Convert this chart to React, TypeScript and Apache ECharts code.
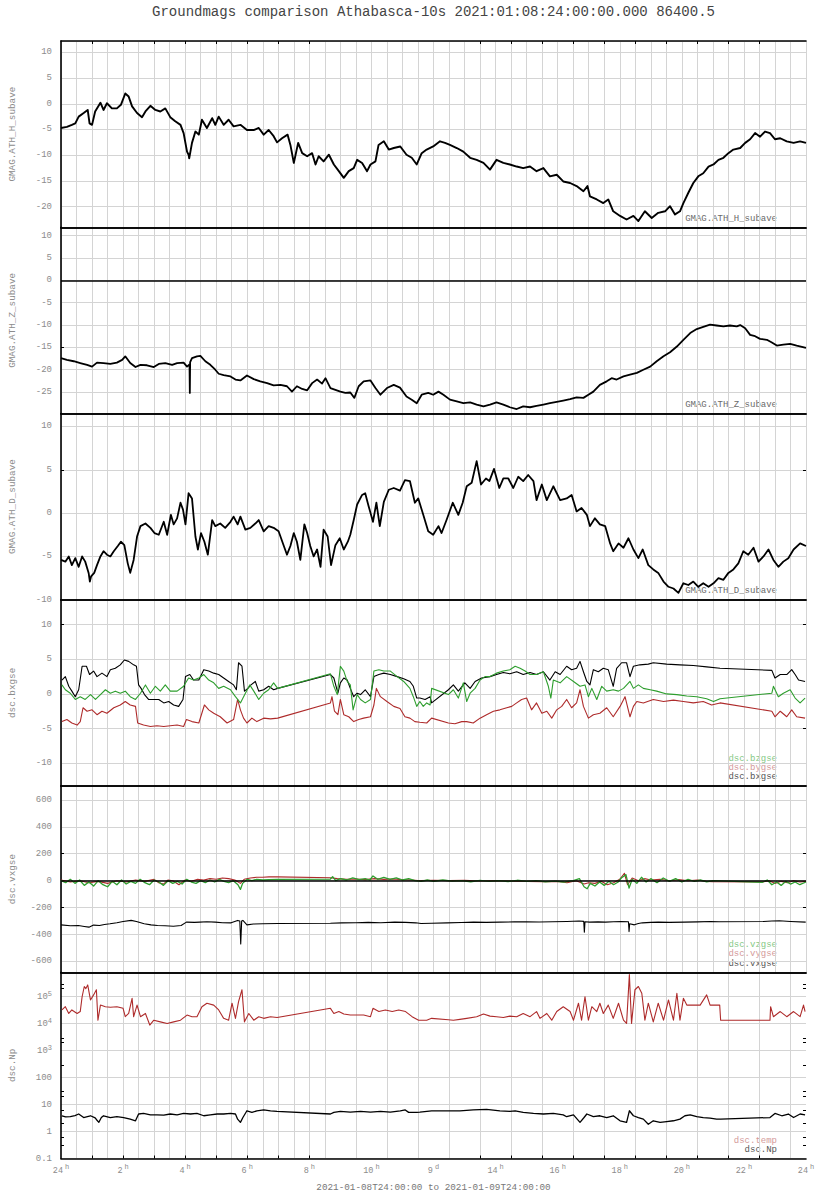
import React, { useEffect, useRef } from "react";
import * as echarts from "echarts";

// ---------------- DATA (hours since 2021-01-09 00:00) ----------------
const hT = [0,0.19,0.35,0.46,0.57,0.73,0.86,0.92,1.0,1.1,1.27,1.37,1.48,1.64,1.8,1.93,2.07,2.18,2.29,2.45,2.61,2.72,2.88,3.04,3.2,3.36,3.52,3.68,3.85,3.95,4.06,4.11,4.13,4.22,4.33,4.44,4.54,4.7,4.87,4.97,5.08,5.24,5.4,5.56,5.78,5.99,6.21,6.37,6.53,6.69,6.85,6.96,7.12,7.3,7.39,7.5,7.64,7.77,7.93,8.09,8.2,8.3,8.46,8.63,8.79,8.95,9.11,9.27,9.43,9.54,9.7,9.86,9.97,10.13,10.23,10.4,10.56,10.72,10.93,11.13,11.3,11.46,11.62,11.78,11.99,12.21,12.37,12.53,12.75,12.96,13.18,13.39,13.61,13.82,14.03,14.25,14.46,14.68,14.89,15.11,15.32,15.54,15.75,15.97,16.18,16.4,16.61,16.83,16.96,17.04,17.26,17.47,17.63,17.79,18.01,18.22,18.44,18.6,18.81,19.03,19.24,19.46,19.62,19.78,19.94,20.05,20.21,20.37,20.53,20.69,20.86,21.02,21.18,21.34,21.5,21.66,21.88,22.04,22.2,22.36,22.52,22.68,22.84,23.0,23.17,23.38,23.6,23.81,24.0];
const hV = [-4.7,-4.5,-4.1,-3.8,-2.5,-1.8,-1.2,-3.8,-4.1,-1.5,0.2,-1.2,0.1,-0.9,-0.9,-0.2,2.0,1.4,-0.5,-1.8,-2.6,-1.5,-0.4,-1.2,-1.5,-0.9,-2.6,-3.4,-4.1,-5.7,-9.3,-9.9,-10.6,-7.6,-5.4,-6.0,-3.1,-4.7,-2.8,-4.1,-2.5,-4.1,-3.1,-4.4,-4.1,-5.1,-5.1,-4.7,-6.0,-5.1,-6.3,-7.5,-6.7,-6.0,-8.0,-11.5,-7.6,-9.6,-10.2,-9.6,-11.8,-10.2,-11.2,-9.9,-11.8,-13.1,-14.4,-13.1,-12.5,-10.9,-11.5,-13.1,-11.8,-11.2,-8.0,-7.3,-8.9,-8.6,-8.3,-9.9,-10.5,-11.8,-9.6,-8.9,-8.3,-7.3,-7.6,-8.0,-8.6,-9.3,-10.5,-10.9,-11.5,-12.8,-10.9,-11.5,-11.8,-12.2,-12.5,-12.2,-13.1,-12.5,-14.1,-13.8,-15.1,-15.4,-16.0,-17.0,-16.0,-18.0,-18.6,-19.3,-18.6,-20.9,-21.8,-22.5,-21.8,-22.8,-20.9,-22.2,-21.2,-20.9,-19.9,-21.5,-20.9,-19.3,-17.3,-15.4,-14.1,-13.5,-12.2,-11.8,-10.9,-10.5,-9.6,-8.9,-8.6,-7.6,-6.9,-5.7,-6.4,-5.4,-5.7,-6.9,-6.7,-7.3,-7.6,-7.3,-7.6];

const zT = [0,0.19,0.41,0.62,0.84,1.0,1.16,1.37,1.59,1.8,1.97,2.07,2.23,2.4,2.56,2.77,2.99,3.15,3.36,3.58,3.74,3.95,4.06,4.14,4.15,4.16,4.22,4.38,4.49,4.65,4.81,4.97,5.08,5.24,5.46,5.62,5.78,5.99,6.21,6.42,6.64,6.85,7.07,7.28,7.44,7.6,7.77,7.93,8.09,8.25,8.41,8.52,8.68,8.84,9.0,9.16,9.32,9.45,9.59,9.75,9.97,10.13,10.29,10.5,10.72,10.92,11.13,11.3,11.46,11.62,11.83,11.99,12.16,12.32,12.53,12.75,12.96,13.18,13.39,13.61,13.82,14.03,14.25,14.46,14.68,14.89,15.11,15.32,15.54,15.75,15.97,16.18,16.4,16.61,16.83,16.99,17.15,17.36,17.58,17.74,17.9,18.12,18.33,18.55,18.76,18.98,19.19,19.41,19.62,19.84,20.05,20.27,20.48,20.69,20.91,21.12,21.34,21.55,21.77,21.88,22.04,22.2,22.36,22.52,22.74,22.9,23.06,23.27,23.49,23.7,24.0];
const zV = [-17.4,-17.8,-18.1,-18.5,-18.9,-19.3,-18.4,-18.5,-18.7,-18.4,-17.8,-17.0,-18.5,-19.4,-18.9,-19.0,-19.4,-18.7,-18.5,-18.9,-18.5,-18.4,-19.3,-18.8,-25.2,-18.3,-17.4,-17.0,-16.9,-18.1,-18.9,-20.0,-20.9,-21.2,-21.5,-22.2,-22.4,-21.3,-22.1,-22.6,-23.0,-23.5,-23.4,-23.7,-24.9,-23.7,-24.3,-24.6,-23.0,-22.2,-23.1,-21.9,-24.1,-24.5,-24.9,-25.2,-25.1,-26.3,-23.7,-22.6,-22.4,-24.1,-25.6,-24.1,-23.4,-24.0,-26.0,-26.7,-27.5,-25.6,-25.2,-25.6,-24.9,-25.6,-26.7,-27.1,-27.5,-27.3,-27.8,-28.2,-27.8,-27.3,-27.8,-28.4,-28.8,-28.2,-28.4,-28.1,-27.8,-27.5,-27.2,-26.9,-26.6,-26.2,-26.3,-25.6,-24.9,-23.4,-22.6,-21.9,-22.2,-21.5,-21.1,-20.7,-20.0,-19.3,-18.1,-17.0,-16.1,-14.8,-13.3,-11.8,-10.9,-10.4,-9.9,-10.1,-10.3,-10.1,-10.3,-10.0,-10.7,-12.2,-12.5,-13.1,-13.3,-13.9,-14.6,-14.4,-14.2,-14.6,-15.1];

const dT = [0,0.14,0.25,0.35,0.46,0.57,0.68,0.78,0.89,0.93,0.97,1.07,1.16,1.27,1.37,1.48,1.59,1.7,1.83,1.93,2.04,2.15,2.23,2.34,2.45,2.56,2.72,2.88,3.01,3.15,3.31,3.42,3.54,3.63,3.74,3.85,3.93,4.01,4.11,4.22,4.33,4.41,4.51,4.62,4.73,4.87,4.97,5.13,5.29,5.46,5.56,5.69,5.78,5.94,6.1,6.26,6.37,6.53,6.69,6.85,7.01,7.15,7.28,7.39,7.5,7.6,7.71,7.84,7.93,8.03,8.14,8.25,8.36,8.46,8.59,8.7,8.84,8.98,9.11,9.24,9.32,9.43,9.54,9.7,9.8,9.91,10.05,10.16,10.27,10.4,10.56,10.72,10.92,11.08,11.24,11.4,11.51,11.67,11.83,11.99,12.16,12.26,12.42,12.62,12.8,12.94,13.07,13.23,13.39,13.53,13.69,13.8,13.95,14.12,14.25,14.41,14.57,14.73,14.89,15.05,15.22,15.32,15.49,15.65,15.86,16.08,16.29,16.45,16.61,16.77,16.94,17.04,17.2,17.36,17.53,17.69,17.79,17.96,18.12,18.28,18.44,18.6,18.74,18.92,19.08,19.24,19.41,19.57,19.73,19.89,20.05,20.21,20.37,20.53,20.69,20.86,21.02,21.18,21.34,21.5,21.66,21.82,21.98,22.14,22.31,22.47,22.63,22.79,22.95,23.11,23.27,23.43,23.6,23.81,24.0];
const dV = [-5.4,-5.6,-5.0,-6.0,-5.2,-6.2,-5.0,-5.6,-6.9,-7.9,-7.3,-6.9,-6.0,-5.0,-4.4,-4.8,-5.0,-4.4,-3.8,-3.3,-3.7,-5.8,-6.9,-5.4,-2.7,-1.5,-1.2,-1.7,-2.3,-2.5,-1.0,-2.5,-0.2,-1.3,-0.6,1.2,0.4,-1.3,2.3,1.7,-2.7,-4.2,-2.3,-3.3,-4.8,-0.8,-1.5,-1.2,-1.7,-1.0,-0.4,-1.3,-0.4,-1.9,-1.7,-1.2,-0.8,-2.1,-1.5,-1.7,-2.1,-3.5,-4.8,-3.8,-2.3,-3.3,-5.4,-1.3,-2.3,-3.8,-5.0,-4.2,-6.2,-1.9,-2.7,-6.0,-3.7,-2.9,-4.2,-3.3,-2.5,-0.8,1.0,2.1,2.3,0.8,-1.0,1.2,-1.5,1.3,2.7,2.9,2.6,3.8,3.7,1.2,1.7,-0.2,-2.1,-2.5,-1.5,-2.3,-0.8,1.2,-0.2,1.2,3.1,3.5,6.0,3.3,4.0,3.7,5.1,2.9,4.0,4.0,2.9,4.2,3.7,4.4,3.7,1.5,3.3,1.5,3.1,1.5,1.7,2.1,0.2,0.6,-0.2,-1.5,-0.6,-1.3,-1.5,-3.5,-4.4,-3.5,-4.0,-2.9,-4.2,-5.2,-4.2,-6.0,-6.5,-6.9,-7.9,-8.5,-8.7,-9.2,-8.1,-8.3,-7.9,-8.5,-8.1,-8.5,-8.1,-7.5,-7.7,-6.9,-6.5,-5.8,-4.4,-4.8,-4.0,-5.6,-5.0,-4.2,-5.4,-6.2,-5.6,-5.2,-4.2,-3.5,-3.8];

const bxT = [0.03,0.14,0.25,0.35,0.46,0.57,0.68,0.82,0.92,1.05,1.16,1.32,1.48,1.59,1.75,1.91,2.04,2.18,2.34,2.43,2.5,2.58,2.69,2.82,2.99,3.15,3.31,3.47,3.63,3.79,3.93,4.01,4.15,4.27,4.44,4.6,4.76,4.92,5.08,5.24,5.4,5.56,5.65,5.72,5.83,5.91,6.02,6.12,6.26,6.37,6.53,6.69,6.85,6.98,8.68,8.79,8.92,9.0,9.11,9.22,9.32,9.43,9.54,9.65,9.8,9.97,10.08,10.24,10.4,10.61,10.83,11.04,11.24,11.35,11.46,11.56,11.73,11.89,11.94,12.48,12.64,12.8,13.01,13.18,13.34,13.55,13.82,14.03,14.25,14.46,14.68,14.89,15.11,15.32,15.54,15.75,15.92,16.08,16.29,16.45,16.61,16.72,16.83,16.94,17.04,17.15,17.31,17.47,17.63,17.79,17.9,18.06,18.22,18.33,18.44,18.65,18.92,19.08,19.51,19.94,20.37,20.8,21.23,22.9,23.0,23.17,23.38,23.54,23.65,23.76,23.97];
const bxV = [2.0,2.5,1.1,0.4,-0.4,0.6,4.0,4.0,2.8,3.3,2.5,3.0,2.5,3.5,3.7,4.2,4.9,4.7,4.2,4.0,1.3,0.8,-0.1,-0.8,-0.8,-0.8,-1.3,-1.1,-1.6,-1.8,-0.8,2.5,2.8,2.0,2.0,3.5,3.3,3.0,2.8,2.3,1.8,1.3,0.6,4.5,4.0,0.4,0.8,1.3,1.8,0.4,0.6,1.1,0.6,0.8,2.8,2.3,0.1,1.6,2.3,2.0,0.8,-0.4,0.1,-0.1,0.6,-0.4,2.5,2.8,3.0,2.8,2.5,2.2,1.8,1.1,-0.6,-0.6,-0.8,-0.4,-1.3,0.6,1.3,0.4,1.6,0.8,1.8,2.3,2.5,2.8,3.1,2.9,3.2,2.8,3.1,2.8,3.2,2.0,3.2,2.8,4.0,3.5,3.7,4.7,3.2,1.8,1.3,3.5,3.2,3.7,3.5,1.1,3.7,4.5,4.5,2.5,4.0,4.2,4.3,4.5,4.3,4.2,4.1,3.9,3.7,3.4,2.3,2.8,2.8,3.5,2.8,2.0,1.8];

const byT = [0.03,0.19,0.35,0.52,0.62,0.71,0.84,1.0,1.16,1.32,1.48,1.7,1.91,2.07,2.23,2.4,2.47,2.66,2.88,3.09,3.31,3.52,3.74,3.95,4.04,4.22,4.44,4.62,4.76,4.92,5.13,5.35,5.56,5.69,5.78,5.88,5.99,6.15,6.31,6.53,6.75,6.98,8.68,8.73,8.81,8.92,9.0,9.11,9.27,9.43,9.59,9.75,9.97,10.08,10.16,10.29,10.5,10.72,10.92,11.08,11.24,11.4,11.56,11.78,11.94,12.48,12.69,12.91,13.07,13.28,13.5,13.71,13.93,14.14,14.36,14.52,14.68,14.84,15.0,15.16,15.32,15.49,15.65,15.81,15.97,16.13,16.29,16.45,16.61,16.72,16.83,16.99,17.15,17.36,17.58,17.79,18.01,18.17,18.33,18.44,18.55,18.76,19.08,19.41,19.73,20.05,20.37,20.69,20.96,21.23,22.9,23.0,23.17,23.38,23.54,23.7,23.97];
const byV = [-4.0,-3.7,-4.2,-4.5,-4.0,-2.0,-2.5,-2.3,-3.0,-2.5,-2.8,-2.0,-1.6,-1.1,-1.6,-1.8,-4.2,-4.5,-4.7,-4.6,-4.7,-4.6,-4.5,-4.7,-3.7,-4.0,-4.2,-1.6,-2.3,-2.8,-3.3,-4.2,-3.7,-0.8,-2.3,-3.5,-4.2,-3.5,-4.0,-3.5,-3.6,-3.5,-1.3,-0.4,-2.5,-3.0,-0.8,-3.0,-3.3,-4.0,-3.7,-3.5,-3.3,-1.6,0.8,-0.4,-1.1,-1.8,-2.1,-3.3,-3.5,-4.0,-4.1,-4.2,-3.5,-4.2,-4.3,-4.0,-4.0,-4.2,-3.5,-3.0,-2.5,-2.3,-2.0,-1.8,-1.3,-0.8,-0.6,-2.3,-1.3,-2.8,-2.5,-3.5,-2.3,-1.8,-0.8,-2.0,-1.3,0.6,-1.8,-3.5,-3.0,-2.8,-2.0,-3.3,-1.8,-0.4,-3.3,-1.8,-1.1,-1.3,-0.8,-1.1,-0.9,-1.1,-1.3,-1.1,-1.6,-1.3,-2.5,-3.3,-2.5,-3.3,-2.3,-3.3,-3.5];

const bzT = [0.03,0.14,0.3,0.46,0.62,0.78,0.95,1.11,1.27,1.43,1.59,1.75,1.91,2.07,2.23,2.4,2.56,2.72,2.88,3.04,3.2,3.36,3.52,3.74,3.95,4.11,4.27,4.44,4.6,4.76,4.92,5.08,5.24,5.46,5.62,5.78,5.94,6.08,6.21,6.37,6.53,6.69,6.85,6.98,8.68,8.79,8.9,9.0,9.11,9.22,9.32,9.41,9.54,9.65,9.8,9.97,10.08,10.24,10.4,10.61,10.83,11.04,11.24,11.35,11.46,11.56,11.67,11.78,11.89,11.94,12.48,12.64,12.8,12.96,13.07,13.18,13.34,13.5,13.66,13.82,14.03,14.25,14.46,14.63,14.79,14.95,15.11,15.32,15.54,15.7,15.78,15.86,16.08,16.29,16.51,16.72,16.88,16.99,17.1,17.26,17.42,17.58,17.79,17.96,18.12,18.33,18.44,18.6,18.76,18.98,19.19,19.51,19.84,20.16,20.48,20.8,21.02,21.23,22.9,22.95,23.11,23.27,23.49,23.65,23.81,23.97];
const bzV = [1.3,0.6,0.1,-0.8,-0.4,-0.8,-0.1,-0.8,-0.1,0.6,0.1,0.4,0.1,0.4,-0.4,-0.8,0.1,1.3,0.1,1.1,0.4,1.3,0.4,0.4,1.1,2.3,2.0,2.3,2.8,2.0,1.6,0.8,1.1,0.6,-0.4,-1.3,0.1,1.3,0.4,-0.8,0.1,0.6,1.6,0.8,2.9,1.1,-0.1,4.0,3.3,1.8,1.3,-2.3,-0.1,-0.8,-1.3,-0.8,3.3,3.5,3.3,3.3,2.5,1.8,0.8,-0.4,-1.8,-1.1,-1.8,-1.3,-1.6,0.8,-0.1,0.6,-0.6,1.6,-1.1,0.1,0.8,2.0,2.5,2.5,3.0,3.3,3.5,4.0,3.7,3.3,2.8,2.8,3.2,1.1,-0.6,2.0,1.6,2.5,1.8,1.1,1.3,-0.4,0.8,-0.8,1.1,0.4,0.6,0.4,0.8,1.8,0.8,1.3,0.8,0.6,0.4,0.0,-0.1,-0.3,-0.4,-0.7,-1.1,-0.7,0.1,1.1,-0.4,0.1,0.6,-0.6,-1.3,-0.6];

const vxT = [0,0.3,0.56,0.75,0.9,1.05,1.24,1.4,1.58,1.8,2.0,2.26,2.43,2.68,2.9,3.11,3.35,3.62,3.87,4.04,4.3,4.47,4.7,4.97,5.2,5.48,5.69,5.76,5.79,5.82,5.86,5.99,6.2,6.5,6.98,8.68,9.05,9.5,9.9,10.3,10.75,11.1,11.43,11.6,11.94,12.44,12.9,13.29,13.7,14.14,14.6,14.99,15.4,15.84,16.3,16.69,16.84,16.86,16.88,17.03,17.3,17.54,17.8,18.05,18.28,18.3,18.32,18.47,18.6,18.73,19.0,19.24,19.6,20.08,20.5,20.93,21.2,22.63,22.9,23.14,23.5,23.99];
const vxV = [-328,-335,-333,-340,-345,-330,-333,-325,-320,-312,-303,-295,-303,-320,-328,-333,-335,-338,-333,-308,-310,-308,-305,-308,-312,-313,-295,-300,-470,-300,-295,-328,-322,-320,-318,-316,-313,-312,-310,-312,-308,-310,-313,-318,-316,-313,-311,-308,-310,-308,-306,-305,-307,-305,-303,-300,-302,-383,-305,-308,-306,-308,-305,-303,-305,-378,-320,-328,-318,-313,-310,-308,-310,-308,-306,-303,-305,-303,-300,-298,-303,-308];

const vyT = [0,0.3,0.6,0.9,1.2,1.5,1.8,2.1,2.4,2.7,3.0,3.15,3.3,3.45,3.6,3.8,4.0,4.2,4.4,4.6,4.8,5.0,5.2,5.4,5.6,5.78,5.9,6.1,6.3,6.5,6.7,6.98,8.68,8.9,9.2,9.5,9.8,10.1,10.4,10.7,11.0,11.3,11.6,12.0,12.5,13.0,13.5,14.0,14.5,15.0,15.5,16.0,16.3,16.6,16.85,17.0,17.2,17.4,17.6,17.8,18.0,18.15,18.25,18.4,18.6,18.8,19.0,19.3,19.6,19.9,20.2,20.5,20.8,21.0,22.6,22.8,23.0,23.2,23.4,23.6,23.8,24.0];
const vyV = [5,-10,0,-15,-5,-20,0,-10,5,-5,10,-15,-25,5,0,-30,5,-5,10,5,15,10,20,15,5,-20,10,20,25,25,28,28,22,15,10,12,8,15,10,12,8,5,0,3,0,2,-2,0,-3,-5,-8,-5,-15,0,-25,-15,-20,-5,-30,-15,10,55,-30,20,0,15,5,10,0,8,0,5,-5,-8,-10,0,-20,-5,-15,0,-10,-5];

const vzT = [0,0.15,0.3,0.45,0.6,0.75,0.9,1.05,1.2,1.35,1.5,1.65,1.8,1.95,2.1,2.25,2.4,2.55,2.7,2.85,3.0,3.15,3.3,3.45,3.6,3.75,3.9,4.05,4.2,4.35,4.5,4.65,4.8,4.95,5.1,5.25,5.4,5.55,5.7,5.78,5.85,6.0,6.15,6.3,6.5,6.7,6.98,8.68,8.75,8.85,9.0,9.2,9.4,9.6,9.8,9.95,10.05,10.2,10.4,10.6,10.8,11.0,11.2,11.4,11.6,11.8,12.0,12.3,12.6,12.9,13.2,13.5,13.8,14.1,14.4,14.7,15.0,15.3,15.6,15.9,16.2,16.5,16.7,16.85,16.95,17.05,17.2,17.35,17.5,17.65,17.8,17.95,18.05,18.2,18.3,18.4,18.55,18.7,18.85,19.0,19.2,19.4,19.6,19.8,20.0,20.2,20.4,20.6,20.8,21.0,22.6,22.75,22.9,23.05,23.2,23.35,23.5,23.65,23.8,24.0];
const vzV = [0,-15,10,-20,5,-35,-10,-40,0,-30,-45,-5,-30,5,-25,-5,-20,10,-15,-30,5,-10,-35,0,-20,-5,-25,10,-10,-20,0,-15,5,-10,10,-5,-15,0,-30,-65,-20,10,0,10,5,8,10,12,30,0,15,5,20,8,15,5,35,10,25,10,20,5,15,0,-5,5,-5,5,-3,0,-8,2,-5,0,-6,3,-5,0,-8,-3,-10,0,15,-45,-60,-20,-40,-10,-35,-5,-30,-10,20,45,-55,10,-20,25,-10,15,-15,20,-5,15,-10,10,-5,5,-8,0,-12,5,-30,-10,-35,-5,-25,-10,-30,-10];

const tempT = [0.03,0.14,0.25,0.35,0.52,0.62,0.68,0.75,0.8,0.86,0.95,1.05,1.14,1.19,1.27,1.43,1.59,1.8,2.0,2.07,2.18,2.29,2.34,2.45,2.56,2.72,2.86,2.99,3.2,3.42,3.63,3.85,4.06,4.22,4.38,4.54,4.7,4.92,5.08,5.24,5.4,5.51,5.62,5.72,5.83,5.91,6.05,6.21,6.37,6.53,6.75,6.96,8.68,8.79,8.95,9.11,9.32,9.54,9.75,9.97,10.05,10.24,10.45,10.67,10.88,11.1,11.31,11.52,11.78,11.94,12.48,12.64,12.85,13.07,13.39,13.61,13.82,14.03,14.25,14.46,14.68,14.89,15.11,15.32,15.43,15.65,15.81,15.97,16.18,16.4,16.51,16.67,16.77,16.88,16.99,17.1,17.26,17.36,17.47,17.63,17.79,17.96,18.12,18.22,18.31,18.38,18.49,18.6,18.71,18.81,18.92,19.08,19.24,19.41,19.57,19.73,19.84,19.94,20.05,20.16,20.37,20.59,20.8,20.91,21.12,21.22,21.25,22.84,22.86,22.95,23.17,23.38,23.6,23.81,23.92,23.97];
const tempV = [32400,42700,24000,32400,24000,28200,100000,240000,200000,275000,75900,117000,182000,13500,49000,42700,40700,42700,37200,18200,24000,87100,18200,49000,18200,24000,8900,13500,11700,10200,11700,13500,20900,18200,18200,42700,57500,49000,32400,15800,13500,57500,15800,66100,182000,11700,24000,13500,18200,15800,18200,17000,37200,24000,28200,22900,20900,20900,20900,18200,37200,28200,32400,28200,32400,28200,18200,13500,13500,15800,14000,13500,14500,15800,18200,22900,19100,18200,17000,19100,18200,24000,18200,28200,15800,24000,13500,28200,42700,28200,13500,57500,13500,100000,13500,42700,28200,57500,24000,49000,15800,57500,13500,10200,660000,10200,182000,240000,135000,13500,57500,11700,57500,13500,75900,13500,135000,13500,87100,49000,49000,49000,117000,49000,49000,49000,13500,13500,42700,18200,28200,18200,28200,18200,49000,28200];

const npT = [0.03,0.15,0.3,0.45,0.57,0.73,0.85,0.95,1.1,1.16,1.22,1.3,1.37,1.59,1.8,2.02,2.23,2.4,2.5,2.66,2.88,3.09,3.31,3.52,3.74,3.95,4.17,4.38,4.6,4.81,5.03,5.24,5.46,5.62,5.69,5.78,5.86,5.99,6.15,6.31,6.53,6.75,6.96,8.68,8.79,9.0,9.32,9.65,9.97,10.29,10.61,10.93,11.09,11.2,11.46,11.56,11.94,12.48,12.85,13.28,13.71,14.14,14.46,14.63,14.89,15.22,15.54,15.86,16.18,16.29,16.51,16.72,16.85,16.94,17.15,17.36,17.58,17.79,18.01,18.22,18.31,18.44,18.6,18.76,18.92,19.08,19.3,19.51,19.73,19.94,20.1,20.27,20.48,20.69,20.91,21.12,21.25,22.84,23.0,23.22,23.43,23.6,23.81,23.97];
const npV = [3.85,3.5,3.55,3.9,4.47,3.31,3.6,3.85,3.2,2.63,2.2,3.3,3.85,3.31,3.55,3.31,2.88,2.51,4.47,4.68,4.17,4.17,4.07,4.47,4.17,4.68,4.47,4.68,3.85,4.17,4.47,4.47,4.68,4.47,2.88,2.19,3.31,5.89,5.13,5.89,6.31,5.89,5.62,4.47,5.13,5.62,5.25,5.62,5.25,5.62,5.25,5.89,6.31,5.13,5.13,5.25,5.89,5.89,5.89,6.31,6.61,5.89,5.62,5.89,5.13,4.68,4.47,4.68,4.17,3.55,4.17,2.19,3.31,4.47,3.55,3.85,3.31,3.85,2.51,2.19,5.89,3.85,3.31,2.88,1.86,2.51,2.19,2.34,2.51,2.88,3.85,4.17,3.55,3.31,3.16,2.88,2.88,3.31,4.68,3.85,4.47,3.31,4.47,4.17];

// tick marks seen on the frame
const FRAME_TICK_HOURS = [1,2,3,4,5,6,7,8,13.5,14.5,15.5,16.5,17.5,18.5,19.5,20.5,21.5,22.5];

// ---------------- STYLE / LAYOUT ----------------
const FONT = '"Liberation Mono", "DejaVu Sans Mono", monospace';
const GRID_C = "#d4d4d4";
const LABEL_C = "#8c8c8c";
const GREEN = "#2e9e2e";
const RED = "#ae2b2b";
const TOP0 = 41;
const GH = 186.25;
const LEFT = 61;
const RIGHT = 18;

const PANELS = [
  { name: "GMAG.ATH_H_subave", min: -24.0, max: 12.2, step: 5, showMin: false, lt: [] as number[], rt: [] as number[] },
  { name: "GMAG.ATH_Z_subave", min: -29.8, max: 11.9, step: 5, showMin: false, lt: [-15], rt: [] as number[] },
  { name: "GMAG.ATH_D_subave", min: -10, max: 11.5, step: 5, showMin: true, lt: [5], rt: [5] },
  { name: "dsc.bxgse", min: -13.3, max: 13.6, step: 5, showMin: false, lt: [10], rt: [10, -5] },
  { name: "dsc.vxgse", min: -680, max: 703, step: 200, showMin: false, lt: [200, -200], rt: [200, -200] },
  { name: "dsc.Np", min: 0.1, max: 810000, step: 0, showMin: true, lt: [300000, 200000, 3000, 2000, 300, 30, 20, 6, 2, 0.6, 0.3], rt: [300000, 200000, 3000, 2000, 300, 30, 20, 6, 2, 0.6, 0.3] },
];

const LEGENDS = [
  [{ t: "GMAG.ATH_H_subave", c: "#6a6a6a" }],
  [{ t: "GMAG.ATH_Z_subave", c: "#6a6a6a" }],
  [{ t: "GMAG.ATH_D_subave", c: "#6a6a6a" }],
  [{ t: "dsc.bzgse", c: "#86c986" }, { t: "dsc.bygse", c: "#d49a9a" }, { t: "dsc.bxgse", c: "#555" }],
  [{ t: "dsc.vzgse", c: "#86c986" }, { t: "dsc.vygse", c: "#d49a9a" }, { t: "dsc.vxgse", c: "#555" }],
  [{ t: "dsc.temp", c: "#d49a9a" }, { t: "dsc.Np", c: "#555" }],
];

const zip = (t: number[], v: number[]) => t.map((x, i) => [x, v[i]]);

function buildOption() {
  const grid: any[] = [];
  const xAxis: any[] = [];
  const yAxis: any[] = [];
  const frameLine = { show: true, onZero: false, lineStyle: { color: "#000", width: 1.6 } };

  PANELS.forEach((p, i) => {
    const top = TOP0 + i * GH;
    grid.push({ left: LEFT, right: RIGHT, top, height: GH });
    const isLast = i === PANELS.length - 1;
    xAxis.push({
      gridIndex: i, type: "value", position: "bottom", min: 0, max: 24, interval: 1,
      axisLine: frameLine,
      axisTick: isLast ? { show: true, inside: true, length: 3, customValues: FRAME_TICK_HOURS, lineStyle: { color: "#000", width: 1 } } : { show: false },
      minorTick: { show: false, splitNumber: 2 },
      splitLine: { show: true, lineStyle: { color: GRID_C, width: 1 } },
      minorSplitLine: { show: true, lineStyle: { color: GRID_C, width: 1 } },
      axisLabel: isLast
        ? {
            show: true, margin: 5, showMinLabel: true, showMaxLabel: true,
            formatter: (v: number) => {
              const h = Math.round(v);
              if (h % 2 !== 0) return "";
              if (h === 12) return "{n|9}{s|d}";
              return "{n|" + (h === 0 ? 24 : h) + "}{s|h}";
            },
            rich: {
              n: { fontFamily: FONT, fontSize: 8.5, color: LABEL_C, lineHeight: 14 },
              s: { fontFamily: FONT, fontSize: 7, color: LABEL_C, verticalAlign: "top", padding: [0, 0, 0, 2] },
            },
          }
        : { show: false },
    });
    xAxis.push({
      gridIndex: i, type: "value", position: "top", min: 0, max: 24, interval: 1,
      axisLine: frameLine,
      axisTick: i === 0 ? { show: true, inside: true, length: 3, customValues: FRAME_TICK_HOURS, lineStyle: { color: "#000", width: 1 } } : { show: false },
      splitLine: { show: false }, axisLabel: { show: false },
    });

    const isLog = p.step === 0;
    const labelStyle: any = {
      show: true, margin: 9, fontFamily: FONT, fontSize: 9, color: LABEL_C,
      showMinLabel: p.showMin, showMaxLabel: false,
    };
    if (isLog) {
      labelStyle.formatter = (v: number) => {
        const e = Math.round(Math.log10(v));
        if (e >= 3) return "{n|10}{s|" + e + "}";
        if (e >= 0) return "{n|" + Math.pow(10, e) + "}";
        return "{n|0.1}";
      };
      labelStyle.rich = {
        n: { fontFamily: FONT, fontSize: 9, color: LABEL_C, lineHeight: 12 },
        s: { fontFamily: FONT, fontSize: 7, color: LABEL_C, verticalAlign: "top" },
      };
    }
    yAxis.push({
      gridIndex: i, type: isLog ? "log" : "value", logBase: 10, position: "left",
      min: p.min, max: p.max,
      ...(isLog ? {} : { minInterval: p.step, maxInterval: p.step }),
      axisLine: frameLine,
      axisTick: { show: false },
      splitLine: { show: true, lineStyle: { color: GRID_C, width: 1 } },
      axisLabel: labelStyle,
      name: p.name, nameLocation: "middle", nameGap: 44, nameRotate: 90,
      nameTextStyle: { fontFamily: FONT, fontSize: 9.3, color: LABEL_C },
    });
    const tickAxis = (pos: string, vals: number[]) => ({
      gridIndex: i, type: isLog ? "log" : "value", logBase: 10, position: pos,
      min: p.min, max: p.max,
      axisLine: { show: false, onZero: false },
      axisTick: vals.length ? { show: true, inside: true, length: 3, customValues: vals, lineStyle: { color: "#000", width: 1 } } : { show: false },
      splitLine: { show: false }, axisLabel: { show: false },
    });
    yAxis.push(tickAxis("left", p.lt));
    yAxis.push(tickAxis("right", p.rt));
  });

  const line = (xi: number, yi: number, data: number[][], color: string, width: number, extra: any = {}) => ({
    type: "line", xAxisIndex: xi, yAxisIndex: yi, data, showSymbol: false, symbol: "none",
    lineStyle: { color, width, join: "round" }, itemStyle: { color }, silent: true, ...extra,
  });
  const zeroLine = {
    markLine: {
      silent: true, symbol: ["none", "none"], label: { show: false },
      lineStyle: { color: "#000", width: 1.6, type: "solid" }, data: [{ yAxis: 0 }],
    },
  };

  const series = [
    line(0, 0, zip(hT, hV), "#000", 1.9),
    line(2, 3, zip(zT, zV), "#000", 1.8, zeroLine),
    line(4, 6, zip(dT, dV), "#000", 1.8),
    line(6, 9, zip(bxT, bxV), "#000", 1.1),
    line(6, 9, zip(byT, byV), RED, 1.1),
    line(6, 9, zip(bzT, bzV), GREEN, 1.1),
    line(8, 12, zip(vxT, vxV), "#000", 1.1, zeroLine),
    line(8, 12, zip(vyT, vyV), RED, 1.1),
    line(8, 12, zip(vzT, vzV), GREEN, 1.3),
    line(10, 15, zip(tempT, tempV), RED, 1.1),
    line(10, 15, zip(npT, npV), "#000", 1.3),
  ];

  const graphic: any[] = [
    {
      type: "text", x: 433.5, y: 12,
      style: { text: "Groundmags comparison Athabasca-10s 2021:01:08:24:00:00.000 86400.5", font: "14px " + FONT, fill: "#444", align: "center", verticalAlign: "middle" },
    },
    {
      type: "text", x: 433.5, y: 1187,
      style: { text: "2021-01-08T24:00:00 to 2021-01-09T24:00:00", font: "9.3px " + FONT, fill: "#777", align: "center", verticalAlign: "middle" },
    },
  ];
  LEGENDS.forEach((items, i) => {
    const bottom = TOP0 + (i + 1) * GH;
    const n = items.length;
    items.forEach((it, k) => {
      graphic.push({
        type: "text", x: 777, y: bottom - 8.7 - (n - 1 - k) * 9.2,
        style: { text: it.t, font: "9px " + FONT, fill: it.c, align: "right", verticalAlign: "middle" },
      });
    });
  });

  return { animation: false, backgroundColor: "#fff", grid, xAxis, yAxis, series, graphic };
}

export default function App() {
  const ref = useRef<HTMLDivElement>(null);
  useEffect(() => {
    document.body.style.margin = "0";
    if (!ref.current) return;
    const chart = echarts.init(ref.current, undefined, { renderer: "svg" });
    chart.setOption(buildOption() as any);
    return () => chart.dispose();
  }, []);
  return <div ref={ref} style={{ width: 824, height: 1200 }} />;
}
